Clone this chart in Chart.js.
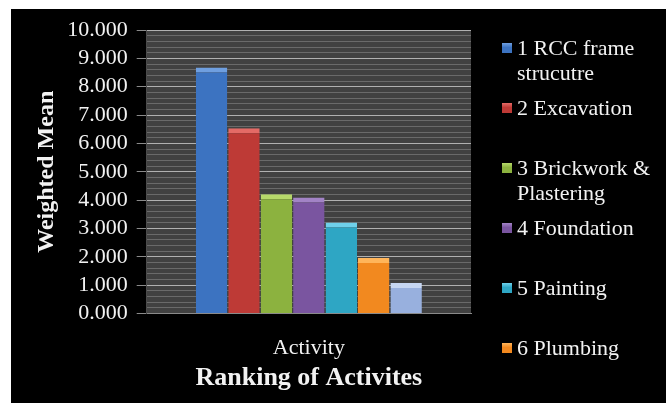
<!DOCTYPE html>
<html>
<head>
<meta charset="utf-8">
<script src="https://cdn.jsdelivr.net/npm/chart.js@4"></script>
<style>
  html, body { margin: 0; padding: 0; background: #fff; }
  #wrap { position: relative; width: 666px; height: 403px; overflow: hidden; }
  #panel { position: absolute; left: 11px; top: 9px; right: 0; bottom: 0; background: #000; }
  #chart { position: absolute; left: 0; top: 0; }
  #legend { position: absolute; left: 502px; top: 35px; font-family: 'Liberation Serif', 'Times New Roman', serif;
    font-size: 22px; line-height: 25px; color: #f2f2f2; }
  #legend .item { display: flex; height: 60px; align-items: flex-start; }
  #legend .box { width: 10px; height: 10px; margin-top: 8px; margin-right: 5px; flex: none; }
  #legend .txt { width: 142px; }
</style>
</head>
<body>
<div id="wrap">
  <div id="panel"></div>
  <canvas id="chart" width="666" height="403"></canvas>
  <div id="legend"></div>
</div>
<script>
const categories = ['Activity'];
const activities = ['1 RCC frame strucutre', '2 Excavation', '3 Brickwork & Plastering', '4 Foundation', '5 Painting', '6 Plumbing', '7'];
const weightedMean = [8.68, 6.53, 4.21, 4.09, 3.21, 1.96, 1.08];
const barColors = ['#3c73c1', '#be3a36', '#8cb23f', '#7a55a0', '#2ea6c4', '#f2891f', '#98b0de'];
const topColors = ['#6f9fe0', '#e46a66', '#b6d86a', '#a283c6', '#6fd0ea', '#ffb55a', '#c6d6f2'];
const yTicks = { min: 0, max: 10, step: 1, minorStep: 0.2 };

const serif = "'Liberation Serif', 'Times New Roman', serif";

const plotBg = {
  id: 'plotBg',
  beforeDraw(chart) {
    const { ctx, chartArea: a } = chart;
    ctx.save();
    ctx.fillStyle = '#414141';
    ctx.fillRect(a.left, a.top, a.right - a.left, a.bottom - a.top);
    ctx.restore();
  },
};

window.onload = () => {
  const chart = new Chart(document.getElementById('chart'), {
    type: 'bar',
    data: {
      labels: categories,
      datasets: activities.map((name, i) => ({
        label: name,
        data: [weightedMean[i]],
        backgroundColor: barColors[i],
        borderColor: topColors[i],
        borderWidth: { top: 5, left: 0, right: 0, bottom: 0 },
        borderSkipped: 'bottom',
        categoryPercentage: 0.7,
        barPercentage: 0.97,
      })),
    },
    plugins: [plotBg],
    options: {
      responsive: false,
      animation: false,
      layout: { padding: { left: 20, right: 195, top: 30, bottom: 0 } },
      plugins: { legend: { display: false }, tooltip: { enabled: false } },
      scales: {
        x: {
          grid: { display: false },
          border: { color: '#8a8a8a' },
          ticks: { color: '#f2f2f2', font: { family: serif, size: 22 }, padding: 14 },
          title: {
            display: true,
            text: 'Ranking of Activites',
            color: '#f2f2f2',
            font: { family: serif, size: 26, weight: 'bold' },
            padding: { top: 0, bottom: 9 },
          },
          afterFit: s => (s.height = 89.5),
        },
        y: {
          min: yTicks.min,
          max: yTicks.max,
          grid: { color: '#b0b0b0', tickColor: '#8a8a8a', tickLength: 10 },
          border: { color: '#4a4a4a' },
          ticks: {
            stepSize: yTicks.step,
            autoSkip: false,
            color: '#f2f2f2',
            font: { family: serif, size: 22, lineHeight: 1 },
            padding: 9,
            callback: v => Number(v).toFixed(3),
          },
          title: {
            display: true,
            text: 'Weighted Mean',
            color: '#f2f2f2',
            font: { family: serif, size: 24, weight: 'bold' },
            padding: { top: 12, bottom: 0 },
          },
          afterFit: s => (s.width = 126.7),
        },
        y2: {
          position: 'right',
          min: yTicks.min,
          max: yTicks.max,
          border: { display: false },
          grid: {
            drawTicks: false,
            color: c => (Math.abs(c.tick.value - Math.round(c.tick.value)) < 1e-6 ? 'transparent' : '#6a6a6a'),
          },
          ticks: { display: false, autoSkip: false, stepSize: yTicks.minorStep },
          afterFit: s => (s.width = 0),
        },
      },
    },
  });

  const legend = document.getElementById('legend');
  chart.data.datasets.slice(0, 6).forEach(ds => {
    const item = document.createElement('div');
    item.className = 'item';
    const box = document.createElement('span');
    box.className = 'box';
    box.style.background = `linear-gradient(180deg, ${ds.borderColor} 0%, ${ds.backgroundColor} 45%)`;
    const txt = document.createElement('span');
    txt.className = 'txt';
    txt.textContent = ds.label;
    item.append(box, txt);
    legend.append(item);
  });
};
</script>
</body>
</html>
